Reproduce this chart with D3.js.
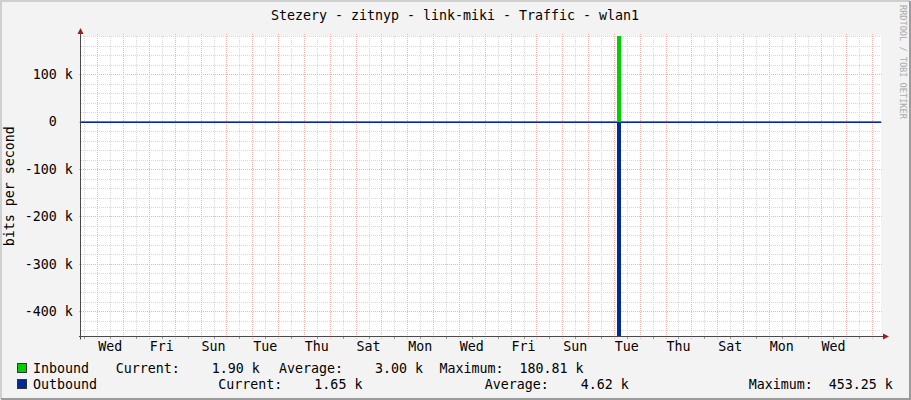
<!DOCTYPE html>
<html lang="en">
<head>
    <meta charset="utf-8">
    <title>Stezery - zitnyp - link-miki - Traffic - wlan1</title>
    <style>
        body {
            margin: 0;
            background: #f3f3f3;
        }
        text {
            font-family: "DejaVu Sans Mono", monospace;
            white-space: pre;
        }
    </style>
</head>
<body>
<svg class="chart"></svg>
<script src="https://d3js.org/d3.v7.min.js"></script>
<script>
    // time axis: one month, step samples (days after start)
    const startTime = new Date(2013, 0, 1, 8, 52);
    const spanDays = 30.97;
    const sampleDays = [0, 1, 2, 3, 4, 5, 6, 7, 8, 9, 10, 11, 12, 13, 14, 15, 16, 17, 18, 19, 20,
        20.75, 20.91, 21, 22, 23, 24, 25, 26, 27, 28, 29, 30, 30.97];
    // bits per second
    const inboundBps = [2050, 1980, 2120, 2010, 1940, 2200, 2080, 1990, 2150, 2030, 1960, 2100, 2240, 2010, 1930, 2060, 2180, 1970, 2090, 2020, 1950,
        180810, 2140, 2070, 1990, 2110, 2000, 1960, 2130, 2050, 1980, 1920, 1900, 1900];
    const outboundBps = [1720, 1680, 1810, 1750, 1640, 1900, 1780, 1700, 1850, 1730, 1660, 1800, 1940, 1710, 1630, 1760, 1880, 1670, 1790, 1720, 1650,
        453250, 1840, 1770, 1690, 1810, 1700, 1660, 1830, 1750, 1680, 1670, 1650, 1650];

    // legend figures (k)
    const seriesNames = ["Inbound", "Outbound"];
    const seriesColors = ["#00cf00", "#002a97"];
    const currentK = [1.90, 1.65];
    const averageK = [3.00, 4.62];
    const maximumK = [180.81, 453.25];

    const width = 911, height = 400;
    const plotLeft = 81, plotRight = 881, plotTop = 36, plotBottom = 336.5;
    const fmt8 = d3.format("8.2f");

    const svg = d3.select(".chart")
        .attr("width", width)
        .attr("height", height)
        .style("display", "block");

    // frame
    svg.append("rect").attr("width", width).attr("height", height).style("fill", "#f3f3f3");
    svg.append("path").attr("d", "M1,399V1H910").style("fill", "none").style("stroke", "#cfcfcf").style("stroke-width", 2);
    svg.append("path").attr("d", "M1,399H910V1").style("fill", "none").style("stroke", "#9b9b9b").style("stroke-width", 2);
    svg.append("rect")
        .attr("x", plotLeft).attr("y", plotTop)
        .attr("width", plotRight - plotLeft).attr("height", plotBottom - plotTop)
        .style("fill", "#fff");

    const endTime = new Date(startTime.getTime() + spanDays * 864e5);
    const xScale = d3.scaleTime()
        .domain([startTime, endTime])
        .range([plotLeft, plotRight]);
    const yScale = d3.scaleLinear()
        .domain([-d3.max(outboundBps), d3.max(inboundBps)])
        .range([plotBottom, plotTop]);

    const samples = sampleDays.map(function(d, i) {
        return {t: new Date(startTime.getTime() + d * 864e5), inb: inboundBps[i], outb: outboundBps[i]};
    });

    const px = function(v) { return Math.round(v) + 0.5; };

    // grid
    const grid = svg.append("g");
    const yDom = yScale.domain();
    const minorY = d3.range(Math.ceil(yDom[0] / 20000) * 20000, yDom[1], 20000);
    const majorY = minorY.filter(function(v) { return v % 100000 === 0; });
    const minorX = d3.timeHour.every(12).range(startTime, endTime)
        .filter(function(d) { return d.getHours() === 12; });
    const majorX = d3.timeDay.range(startTime, endTime);

    grid.selectAll(".hminor").data(minorY).enter().append("line")
        .attr("x1", plotLeft).attr("x2", plotRight)
        .attr("y1", function(d) { return px(yScale(d)); })
        .attr("y2", function(d) { return px(yScale(d)); })
        .style("stroke", "#d8d8d8").style("stroke-dasharray", "1,1");
    grid.selectAll(".vminor").data(minorX).enter().append("line")
        .attr("x1", function(d) { return px(xScale(d)); })
        .attr("x2", function(d) { return px(xScale(d)); })
        .attr("y1", plotTop).attr("y2", plotBottom)
        .style("stroke", "#d8d8d8").style("stroke-dasharray", "1,1");
    grid.selectAll(".vminortick").data(minorX).enter().append("line")
        .attr("x1", function(d) { return px(xScale(d)); })
        .attr("x2", function(d) { return px(xScale(d)); })
        .attr("y1", plotBottom).attr("y2", plotBottom + 2.5)
        .style("stroke", "#9a9a9a");
    grid.selectAll(".hmajor").data(majorY).enter().append("line")
        .attr("x1", plotLeft - 2).attr("x2", plotRight + 2)
        .attr("y1", function(d) { return px(yScale(d)); })
        .attr("y2", function(d) { return px(yScale(d)); })
        .style("stroke", "#f5b0b0").style("stroke-dasharray", "1,1");
    grid.selectAll(".vmajor").data(majorX).enter().append("line")
        .attr("x1", function(d) { return px(xScale(d)); })
        .attr("x2", function(d) { return px(xScale(d)); })
        .attr("y1", plotTop - 2).attr("y2", plotBottom + 3)
        .style("stroke", "#f5b0b0").style("stroke-dasharray", "1,1");

    // traffic, snapped to whole pixels like rrdtool (at least one pixel high)
    const zeroY = Math.round(yScale(0));
    const inArea = d3.area()
        .x(function(d) { return Math.round(xScale(d.t)); })
        .y0(zeroY)
        .y1(function(d) { return Math.min(Math.round(yScale(d.inb)), zeroY - 1); })
        .curve(d3.curveStepAfter);
    const outArea = d3.area()
        .x(function(d) { return Math.round(xScale(d.t)); })
        .y0(zeroY)
        .y1(function(d) { return Math.max(Math.round(yScale(-d.outb)), zeroY + 1); })
        .curve(d3.curveStepAfter);
    svg.append("path").datum(samples).attr("d", inArea)
        .style("fill", seriesColors[0]).style("shape-rendering", "crispEdges");
    svg.append("path").datum(samples).attr("d", outArea)
        .style("fill", seriesColors[1]).style("shape-rendering", "crispEdges");

    // axes
    svg.append("line")
        .attr("x1", plotLeft - 2).attr("x2", plotRight + 3)
        .attr("y1", plotBottom).attr("y2", plotBottom)
        .style("stroke", "#4a4a4a");
    svg.append("line")
        .attr("x1", plotLeft - 0.5).attr("x2", plotLeft - 0.5)
        .attr("y1", plotBottom + 3).attr("y2", plotTop - 3)
        .style("stroke", "#4a4a4a");
    svg.append("path")
        .attr("d", "M" + (plotLeft - 3.5) + "," + (plotTop - 2) + "L" + (plotLeft - 0.5) + "," + (plotTop - 8) + "L" + (plotLeft + 2.5) + "," + (plotTop - 2) + "Z")
        .style("fill", "#a01c1c");
    svg.append("path")
        .attr("d", "M" + (plotRight + 2) + "," + (plotBottom - 3) + "L" + (plotRight + 8) + "," + plotBottom + "L" + (plotRight + 2) + "," + (plotBottom + 3) + "Z")
        .style("fill", "#a01c1c");

    // x labels every second day, centred on noon, only inside the time range
    const labelDays = majorX.filter(function(d, i) {
        return i % 2 === 0 && d3.timeHour.offset(d, 12) < endTime;
    });
    svg.selectAll(".xlabel").data(labelDays).enter().append("text")
        .attr("x", function(d) { return xScale(d3.timeHour.offset(d, 12)); })
        .attr("y", 351)
        .attr("text-anchor", "middle")
        .style("font-size", "13.3px")
        .text(d3.timeFormat("%a"));

    // y labels
    svg.selectAll(".ylabel").data(majorY).enter().append("text")
        .attr("x", 72.7)
        .attr("y", function(d) { return yScale(d); })
        .attr("dy", "0.36em")
        .attr("text-anchor", "end")
        .style("font-size", "13.3px")
        .text(function(d) { return d === 0 ? "0\u00a0\u00a0" : (d / 1000) + " k"; });

    svg.append("text")
        .attr("transform", "translate(14," + ((plotTop + plotBottom) / 2) + ") rotate(-90)")
        .attr("text-anchor", "middle")
        .style("font-size", "13.3px")
        .text("bits per second");

    svg.append("text")
        .attr("x", 455)
        .attr("y", 20)
        .attr("text-anchor", "middle")
        .style("font-size", "13.3px")
        .text("Stezery - zitnyp - link-miki - Traffic - wlan1");

    svg.append("text")
        .attr("transform", "translate(899.5,5) rotate(90)")
        .style("font-size", "8.6px")
        .style("fill", "#ababab")
        .text("RRDTOOL / TOBI OETIKER");

    // legend
    const legendY = [373, 389];
    const legendX = [
        [33, 115.7, 279, 439.4],
        [33, 218.3, 484.7, 748.7]
    ];
    seriesNames.forEach(function(name, i) {
        const g = svg.append("g");
        g.append("rect")
            .attr("x", 17.5).attr("y", legendY[i] - 9.5)
            .attr("width", 9).attr("height", 9)
            .style("fill", seriesColors[i])
            .style("stroke", "#333");
        const items = [
            name,
            "Current:" + fmt8(currentK[i]) + " k",
            "Average:" + fmt8(averageK[i]) + " k",
            "Maximum:" + fmt8(maximumK[i]) + " k"
        ];
        items.forEach(function(s, j) {
            g.append("text")
                .attr("x", legendX[i][j])
                .attr("y", legendY[i])
                .style("font-size", "13.3px")
                .text(s);
        });
    });
</script>
</body>
</html>
